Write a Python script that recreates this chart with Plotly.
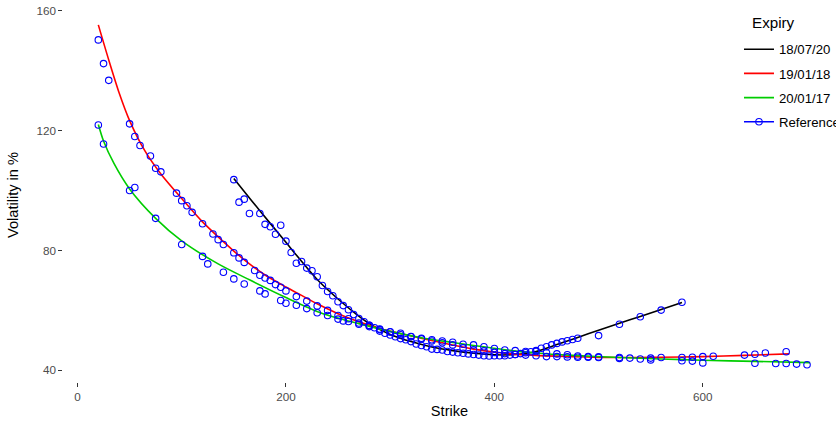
import plotly.graph_objects as go

# ---------------- data ----------------
expiries = ["18/07/20", "19/01/18", "20/01/17"]
line_colors = ["#000000", "#FF0000", "#00CD00"]

# Reference (market) implied vols, per expiry
strikes_2020 = [150, 155, 160, 165, 175, 180, 185, 190, 195, 200, 205, 210, 215, 220, 225,
                230, 235, 240, 245, 250, 255, 260, 265, 270, 275, 280, 285, 290, 295, 300,
                305, 310, 315, 320, 325, 330, 335, 340, 345, 350, 355, 360, 365, 370, 375,
                380, 385, 390, 395, 400, 405, 410, 415, 420, 425, 430, 435, 440, 445, 450,
                455, 460, 465, 470, 475, 480, 500, 520, 540, 560, 580]
vols_2020 = [103.6, 96.1, 97.1, 92.3, 92.3, 88.7, 87.9, 85.4, 88.4, 83.1, 79.3, 75.7, 76.3, 74.1, 73.2,
             71.2, 68.3, 66.3, 64.9, 62.9, 61.6, 60.2, 58.6, 57.3, 56.2, 55.0, 54.2, 53.1, 52.4, 51.8,
             51.2, 50.6, 50.2, 49.6, 48.8, 48.3, 47.9, 47.1, 47.0, 46.8, 46.3, 46.1, 45.9, 45.7, 45.5,
             45.3, 45.1, 44.9, 44.8, 44.9, 44.9, 44.9, 45.1, 45.3, 45.6, 45.9, 46.2, 46.6, 47.4, 47.9,
             48.5, 49.0, 49.5, 49.9, 50.3, 50.7, 51.6, 55.4, 57.9, 60.1, 62.7]

strikes_2018 = [20, 25, 30, 50, 55, 60, 70, 75, 80, 95, 100, 105, 110, 120, 130, 135, 140, 150,
                155, 160, 170, 175, 180, 185, 190, 195, 200, 210, 220, 230, 240, 250, 260, 270,
                280, 290, 300, 310, 320, 330, 340, 350, 360, 370, 380, 390, 400, 410, 420, 430,
                440, 450, 460, 470, 480, 490, 500, 520, 530, 550, 560, 580, 590, 600, 610, 640,
                650, 660, 680]
vols_2018 = [150.2, 142.3, 136.7, 122.2, 118.0, 115.0, 111.5, 107.4, 106.2, 99.1, 96.6, 94.9, 92.7,
             88.9, 85.5, 83.6, 82.0, 79.2, 77.5, 76.0, 73.3, 71.7, 70.8, 70.0, 68.6, 67.7, 66.5,
             64.6, 63.1, 61.5, 60.0, 58.3, 57.2, 55.8, 55.0, 53.8, 52.8, 51.9, 51.2, 50.5, 49.8,
             49.2, 48.5, 47.5, 46.9, 46.5, 46.0, 45.6, 45.3, 45.1, 44.9, 44.6, 44.6, 44.5, 44.4,
             44.4, 44.3, 44.3, 44.1, 44.1, 44.3, 44.3, 44.4, 44.6, 44.7, 45.1, 45.4, 45.8, 46.2]

strikes_2017 = [20, 25, 50, 55, 75, 100, 120, 125, 140, 150, 160, 175, 180, 195, 200, 210, 220,
                230, 240, 250, 255, 260, 270, 280, 290, 300, 310, 320, 330, 340, 350, 360, 370,
                380, 390, 400, 410, 420, 430, 440, 450, 460, 470, 480, 490, 500, 520, 540, 550,
                580, 590, 600, 650, 670, 680, 690, 700]
vols_2017 = [121.8, 115.5, 100.0, 101.0, 90.7, 82.0, 78.0, 75.5, 72.7, 70.5, 68.8, 66.5, 65.5, 63.3,
             62.4, 61.7, 60.6, 59.2, 58.3, 57.1, 56.5, 56.3, 55.4, 54.6, 53.6, 52.9, 52.4, 51.3,
             50.7, 50.2, 49.8, 49.4, 48.7, 48.5, 47.9, 47.3, 46.8, 46.6, 46.3, 46.3, 45.9, 45.5,
             45.2, 44.8, 44.6, 44.5, 44.0, 43.8, 43.5, 43.2, 43.1, 42.5, 42.4, 42.3, 42.3, 42.1, 41.9]

# Fitted smile curves, per expiry
fit_strikes_2020 = [150, 175, 200, 213, 230, 250, 268, 280, 300, 320, 340, 360, 380, 400, 420,
                    440, 460, 480, 500, 520, 540, 560, 580]
fit_vols_2020 = [104.0, 93.2, 82.7, 77.2, 70.3, 63.8, 58.6, 55.6, 52.0, 49.6, 47.8, 46.6, 45.7,
                 45.2, 45.3, 46.3, 48.6, 51.0, 53.4, 55.7, 58.0, 60.3, 62.6]

fit_strikes_2018 = [20, 30, 40, 50, 65, 80, 100, 120, 135, 150, 165, 180, 200, 215, 230, 250, 270,
                    290, 320, 350, 380, 410, 440, 475, 520, 560, 600, 640, 683]
fit_vols_2018 = [155.2, 143.5, 132.5, 123.3, 113.0, 105.5, 97.3, 89.5, 84.5, 79.8, 75.5, 71.8,
                 67.8, 65.0, 62.2, 58.9, 56.2, 54.0, 51.5, 49.2, 47.1, 45.7, 45.0, 44.6, 44.3,
                 44.4, 44.6, 45.0, 45.5]

fit_strikes_2017 = [20, 25, 35, 50, 75, 100, 135, 165, 200, 235, 270, 300, 330, 360, 380, 410,
                    440, 475, 520, 560, 600, 650, 703]
fit_vols_2017 = [122.0, 116.5, 109.0, 100.5, 90.7, 83.2, 75.5, 70.2, 64.3, 59.0, 55.6, 53.0,
                 50.9, 49.3, 48.3, 46.9, 45.8, 45.0, 44.3, 43.8, 43.4, 43.0, 42.6]

x_ticks = [0, 200, 400, 600]
y_ticks = [40, 80, 120, 160]

# ---------------- figure ----------------
fits = [(fit_strikes_2020, fit_vols_2020),
        (fit_strikes_2018, fit_vols_2018),
        (fit_strikes_2017, fit_vols_2017)]

fig = go.Figure()
for i, (name, col, (fx, fy)) in enumerate(zip(expiries, line_colors, fits)):
    fig.add_trace(go.Scatter(
        x=fx, y=fy, mode="lines", name=name,
        line=dict(color=col, width=1.6, shape="spline", smoothing=0.8),
        legendgroup="g%d" % i,
        hoverinfo="skip",
    ))

ref_x = strikes_2020 + strikes_2018 + strikes_2017
ref_y = vols_2020 + vols_2018 + vols_2017
fig.add_trace(go.Scatter(
    x=ref_x, y=ref_y, mode="markers", name="Reference", showlegend=False,
    marker=dict(symbol="circle-open", size=6.5, color="#0000FF", line=dict(width=1.1, color="#0000FF")),
))
# legend entry for Reference (line + point, as in the reference legend)
fig.add_trace(go.Scatter(
    x=[None], y=[None], mode="lines+markers", name="Reference",
    line=dict(color="#0000FF", width=1.6),
    marker=dict(symbol="circle-open", size=6.5, color="#0000FF", line=dict(width=1.1, color="#0000FF")),
    legendgroup="g3",
))

font_family = "Liberation Sans, Arial, sans-serif"
fig.update_layout(
    width=836, height=425,
    margin=dict(l=63, r=0, t=8, b=43, autoexpand=False),
    paper_bgcolor="white", plot_bgcolor="white",
    font=dict(family=font_family, color="#000000"),
    showlegend=True,
    legend=dict(
        x=0.8745, xanchor="left", y=0.930, yanchor="top",
        font=dict(size=13.2, color="#000000"),
        traceorder="grouped", tracegroupgap=4,
        bgcolor="rgba(255,255,255,0)",
    ),
    annotations=[dict(
        text="Expiry", xref="paper", yref="paper",
        x=0.889, xanchor="left", y=1 - 14 / 374, yanchor="middle",
        showarrow=False, font=dict(size=15.2, color="#000000"),
    )],
    xaxis=dict(
        range=[-13.9, 727.8], tickvals=x_ticks, ticktext=[str(v) for v in x_ticks],
        showgrid=False, zeroline=False, showline=False, automargin=False,
        ticks="outside", ticklen=3.65, tickwidth=0.66, tickcolor="#333333",
        tickfont=dict(size=11.7, color="#4D4D4D"),
        title=dict(text="Strike", font=dict(size=14.6, color="#000000"), standoff=4),
    ),
    yaxis=dict(
        range=[36.13, 160.83], tickvals=y_ticks, ticktext=[str(v) for v in y_ticks],
        showgrid=False, zeroline=False, showline=False, automargin=False,
        ticks="outside", ticklen=3.65, tickwidth=0.66, tickcolor="#333333",
        tickfont=dict(size=11.7, color="#4D4D4D"),
        ticklabeloverflow="allow",
        title=dict(text="Volatility in %", font=dict(size=14.6, color="#000000"), standoff=14),
    ),
)

# remove the default 8px page margin so the figure sits at the window's top-left corner
fig.write_html("out.html", config={"displayModeBar": False},
               post_script="document.body.style.margin='0';")
